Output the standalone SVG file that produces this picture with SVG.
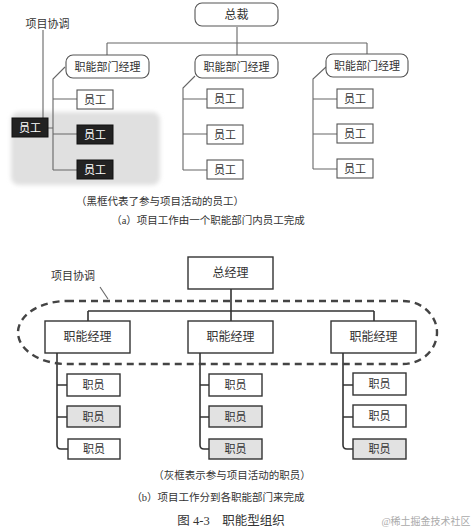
<svg xmlns="http://www.w3.org/2000/svg" width="474" height="532" viewBox="0 0 474 532">
<defs>
<style>
text{font-family:"Liberation Serif","Noto Sans CJK SC",serif;fill:#333;text-anchor:middle;dominant-baseline:central}
.t11{font-size:11px}
.t12{font-size:12px}
.cap{font-size:10.5px}
.rbox{fill:#fff;stroke:#555;stroke-width:1.1}
.ebox{fill:#fff;stroke:#555;stroke-width:1.1}
.blk{fill:#222;stroke:#111;stroke-width:1}
.wt{fill:#fff}
.ln{fill:none;stroke:#666;stroke-width:1.1}
.ln2{fill:none;stroke:#333;stroke-width:1.6}
.sq{fill:#fff;stroke:#333;stroke-width:1.4}
.gr{fill:#e2e2e2;stroke:#333;stroke-width:1.4}
</style>
<filter id="blur" x="-10%" y="-10%" width="120%" height="120%"><feGaussianBlur stdDeviation="2"/></filter>
</defs>
<rect x="11" y="112" width="149" height="73" rx="8" fill="#e0e0e0" filter="url(#blur)"/>
<g id="connectors">
<path class="ln" d="M237 27V55M107 43H367M107 43V55M367 43V54"/>
<path class="ln" d="M65 67L53 79V170M53 99H77M53 134H77M53 170H77M48 128H53"/>
<path class="ln" d="M195 76L183 88V170M183 99H207M183 134H207M183 170H207"/>
<path class="ln" d="M326 67L313 79V169M313 99H337M313 134H337M313 169H337"/>
<path class="ln" d="M43 30V118"/>
<path class="ln2" d="M231 289V321M88 311H374M88 311V321M374 311V321"/>
<path class="ln2" d="M57 353V445Q57 449 61 449H68M57 385H67M57 417H67"/>
<path class="ln2" d="M200 353V445Q200 449 204 449H209M200 385H209M200 417H209"/>
<path class="ln2" d="M343 353V445Q343 449 347 449H353M343 385H353M343 417H353"/>
<path class="ln" d="M100 287L108 299"/>
<path d="M67 301L403 301A34 31.5 0 0 1 403 364L67 364A49 31.5 0 0 1 67 301Z" fill="none" stroke="#444" stroke-width="2.4" stroke-dasharray="7 5"/>
</g>
<g id="zongcai"><rect class="rbox" x="195" y="3" width="83" height="23" rx="7"/><text class="t12" x="236.5" y="15">总裁</text></g>
<g id="mgr1"><rect class="rbox" x="66" y="55" width="83" height="23" rx="7"/><text class="t11" x="107.5" y="66.5">职能部门经理</text></g>
<g id="mgr2"><rect class="rbox" x="195" y="55" width="83" height="23" rx="7"/><text class="t11" x="236.5" y="66.5">职能部门经理</text></g>
<g id="mgr3"><rect class="rbox" x="326" y="54" width="82" height="23" rx="7"/><text class="t11" x="367" y="65.5">职能部门经理</text></g>
<g id="e11"><rect class="ebox" x="77" y="90" width="36" height="19"/><text class="t11" x="95" y="99.5">员工</text></g>
<g id="e12"><rect class="blk" x="77" y="125" width="36" height="19"/><text class="t11 wt" x="95" y="134.5">员工</text></g>
<g id="e13"><rect class="blk" x="77" y="160" width="36" height="19"/><text class="t11 wt" x="95" y="169.5">员工</text></g>
<g id="e21"><rect class="ebox" x="207" y="89" width="36" height="19"/><text class="t11" x="225" y="98.5">员工</text></g>
<g id="e22"><rect class="ebox" x="207" y="125" width="36" height="19"/><text class="t11" x="225" y="134.5">员工</text></g>
<g id="e23"><rect class="ebox" x="207" y="160" width="36" height="19"/><text class="t11" x="225" y="169.5">员工</text></g>
<g id="e31"><rect class="ebox" x="337" y="89" width="36" height="19"/><text class="t11" x="355" y="98.5">员工</text></g>
<g id="e32"><rect class="ebox" x="337" y="124" width="36" height="19"/><text class="t11" x="355" y="133.5">员工</text></g>
<g id="e33"><rect class="ebox" x="337" y="159" width="36" height="19"/><text class="t11" x="355" y="168.5">员工</text></g>
<g id="eproj"><rect class="blk" x="12" y="118" width="36" height="19"/><text class="t11 wt" x="30" y="127.5">员工</text></g>
<g id="coord1"><text class="t11" x="47.5" y="24">项目协调</text></g>
<text class="cap" x="160" y="201">（黑框代表了参与项目活动的员工）</text>
<text class="cap" x="208" y="220">（a）项目工作由一个职能部门内员工完成</text>
<g id="gm"><rect class="sq" x="188" y="257" width="85" height="32"/><text class="t12" x="230.5" y="273">总经理</text></g>
<g id="fm1"><rect class="sq" x="45" y="321" width="85" height="32"/><text class="t12" x="87.5" y="337">职能经理</text></g>
<g id="fm2"><rect class="sq" x="188" y="321" width="85" height="32"/><text class="t12" x="230.5" y="337">职能经理</text></g>
<g id="fm3"><rect class="sq" x="331" y="321" width="85" height="32"/><text class="t12" x="373.5" y="337">职能经理</text></g>
<g id="s11"><rect class="sq" x="67" y="374" width="53" height="22"/><text class="t11" x="93.5" y="385">职员</text></g>
<g id="s12"><rect class="gr" x="67" y="406" width="53" height="21"/><text class="t11" x="93.5" y="416.5">职员</text></g>
<g id="s13"><rect class="sq" x="68" y="439" width="52" height="20"/><text class="t11" x="94" y="449">职员</text></g>
<g id="s21"><rect class="sq" x="209" y="374" width="53" height="22"/><text class="t11" x="235.5" y="385">职员</text></g>
<g id="s22"><rect class="gr" x="209" y="406" width="53" height="21"/><text class="t11" x="235.5" y="416.5">职员</text></g>
<g id="s23"><rect class="gr" x="209" y="439" width="53" height="20"/><text class="t11" x="235.5" y="449">职员</text></g>
<g id="s31"><rect class="sq" x="353" y="373" width="53" height="22"/><text class="t11" x="379.5" y="384">职员</text></g>
<g id="s32"><rect class="sq" x="353" y="405" width="53" height="22"/><text class="t11" x="379.5" y="416">职员</text></g>
<g id="s33"><rect class="gr" x="353" y="439" width="53" height="20"/><text class="t11" x="379.5" y="449">职员</text></g>
<g id="coord2"><text class="t11" x="73" y="276">项目协调</text></g>
<text class="cap" x="232" y="475">（灰框表示参与项目活动的职员）</text>
<text class="cap" x="218" y="497">（b）项目工作分到各职能部门来完成</text>
<text style="font-size:12.5px" x="231" y="521">图 4-3　职能型组织</text>
<text style="font-size:10px;fill:#aaa" x="426" y="521">@稀土掘金技术社区</text>
</svg>
